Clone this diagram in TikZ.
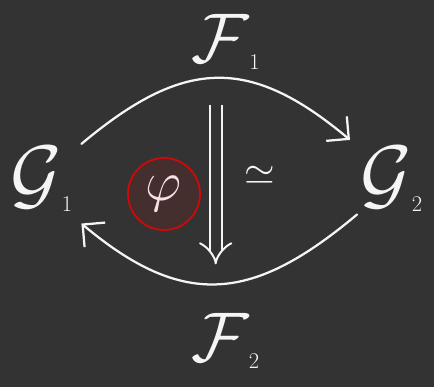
\RequirePackage{fix-cm}
\documentclass[tikz,border=0pt]{standalone}
\usepackage{amsmath,amssymb}
\usetikzlibrary{arrows.meta,positioning,calc}
\definecolor{boardgray}{RGB}{51,51,51}
\definecolor{chalk}{RGB}{245,245,245}
\definecolor{ringred}{RGB}{204,10,10}
\definecolor{ringfill}{RGB}{68,46,46}
\definecolor{phipink}{RGB}{246,226,226}
\newcommand{\bigcal}[2][56]{{\fontsize{#1}{#1}\selectfont$\mathcal{#2}$}}
\newcommand{\lowidx}[2][8pt]{\raisebox{-#1}{\fontsize{16}{16}\selectfont #2}}

\begin{document}
\begin{tikzpicture}[x=0.025cm, y=-0.025cm,
  obj/.style={inner sep=0pt, text=chalk, anchor=base west},
  lbl/.style={inner sep=0pt, text=chalk},
  mor/.style={chalk, line width=1.6pt, line cap=round, -{Straight Barb[length=4mm, width=8mm]}},
  twocell/.style={chalk, line width=1.4pt, double=boardgray, double distance=7pt, -{Implies}},
  ring/.style={circle, draw=ringred, fill=ringfill, line width=1.3pt, minimum size=1.8cm, inner sep=0pt, text=phipink}]
\path[use as bounding box, fill=boardgray] (0,0) rectangle (434,387);
% objects
\node[obj] (G1) at (10,200) {\bigcal{G}\lowidx{1}};
\node[obj] (G2) at (360,200) {\bigcal{G}\lowidx{2}};
% functors
\draw[mor] ([shift={(9,-2)}]G1.north east) to[out=40, in=140, looseness=1.26]
  coordinate[pos=0.5] (m1)
  node[lbl, midway, above=1.8mm, xshift=2.5mm] (F1) {\bigcal[50]{F}\lowidx[5pt]{1}}
  ([shift={(-10,-6)}]G2.north west);
\draw[mor] ([shift={(-3,3)}]G2.south west) to[out=220, in=-40, looseness=1.25]
  coordinate[pos=0.5] (m2)
  node[lbl, midway, below=7mm, xshift=1.5mm] (F2) {\bigcal[50]{F}\lowidx[5pt]{2}}
  ([shift={(9,12)}]G1.south east);
% natural iso
\draw[twocell, shorten <=19pt, shorten >=14pt] (m1) -- (m1 |- m2)
  node[lbl, midway, right=7mm, yshift=1.5mm, font=\fontsize{28}{28}\selectfont] (iso) {$\simeq$};
\node[ring] (phi) at (164,194) {\fontsize{40}{40}\selectfont$\varphi$};
\end{tikzpicture}
\end{document}
